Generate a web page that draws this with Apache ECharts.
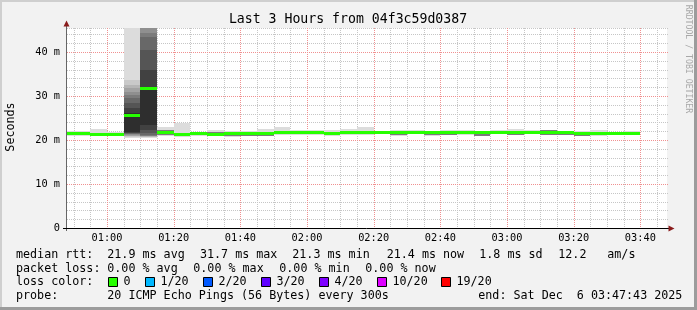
<!DOCTYPE html>
<html><head><meta charset="utf-8">
<script src="https://cdn.jsdelivr.net/npm/echarts@6/dist/echarts.min.js"></script>
<style>html,body{margin:0;padding:0;background:#f2f2f2}#c{width:697px;height:310px}</style>
</head><body><div id="c"></div><script>
// ---------------- data ----------------
const chartTitle = 'Last 3 Hours from 04f3c59d0387';
const startTime = '00:48';
const endTime = '03:48';
const stepMinutes = 5;
const stepStarts = ['00:45','00:50','00:55','01:00','01:05','01:10','01:15','01:20','01:25','01:30','01:35','01:40',
  '01:45','01:50','01:55','02:00','02:05','02:10','02:15','02:20','02:25','02:30','02:35','02:40','02:45','02:50',
  '02:55','03:00','03:05','03:10','03:15','03:20','03:25','03:30','03:35'];
const medianRtt = [21.5,21.5,21.3,21.3,25.5,31.7,21.7,21.3,21.4,21.3,21.4,21.4,21.4,21.6,21.6,21.6,21.5,21.7,21.6,
  21.7,21.6,21.7,21.6,21.6,21.6,21.6,21.7,21.7,21.7,21.6,21.6,21.4,21.4,21.5,21.4];
const lossPerStep = [0,0,0,0,0,0,0,0,0,0,0,0,0,0,0,0,0,0,0,0,0,0,0,0,0,0,0,0,0,0,0,0,0,0,0];
// sorted ping samples per step (ms)
const smokePings = [
  [21.0,21.3,21.8,22.0],[21.0,21.3,21.8,22.0],[21.0,21.1,21.6,22.5],[21.0,21.1,21.6,21.8],
  [20.5,20.7,20.9,21.0,21.2,21.3,21.4,21.5,21.6,21.8,26.1,27.3,28.5,29.5,30.2,30.8,31.8,32.5,33.6,55.0],
  [20.5,20.6,20.7,20.8,20.9,21.0,21.2,21.6,22.3,23.4,31.8,36.0,40.5,43.4,44.3,46.0,48.0,50.0,55.0,60.0],
  [20.9,21.1,22.2,22.9],[20.6,21.0,21.7,23.9],[21.0,21.2,21.6,21.9],[21.0,21.1,21.9,22.3],
  [20.6,21.0,21.5,22.0],[20.8,20.9,21.6,22.0],[20.8,20.9,21.6,22.5],[21.1,21.3,21.7,23.0],
  [21.1,21.3,21.7,22.2],[21.1,21.3,21.7,22.3],[20.9,21.1,21.7,22.3],[21.2,21.4,21.9,22.5],
  [21.2,21.4,21.8,23.0],[21.3,21.5,21.9,22.1],[20.8,21.1,21.8,22.3],[21.3,21.5,21.9,22.3],
  [21.0,21.2,21.8,22.1],[21.1,21.2,21.8,22.3],[21.2,21.4,21.8,22.3],[20.8,21.0,21.8,22.1],
  [21.3,21.5,21.9,22.3],[21.1,21.2,21.9,22.5],[21.3,21.5,22.0,22.2],[21.1,21.2,22.2,22.3],
  [21.1,21.2,21.8,22.0],[20.8,21.0,21.5,22.0],[21.0,21.1,21.9,22.2],[21.1,21.2,21.7,21.9],
  [21.2,21.3,21.8,22.0]
];
const yMax = 45.4545;
const yTickValues = [0,10,20,30,40];
const yTickLabels = ['0','10 m','20 m','30 m','40 m'];
const xTickLabels = ['01:00','01:20','01:40','02:00','02:20','02:40','03:00','03:20','03:40'];
const rttStats = [21.9, 31.7, 21.3, 21.4];
const rttStatNames = ['avg','max','min','now'];
const rttSd = 1.8;
const rttAmS = 12.2;
const lossStats = [0, 0, 0, 0];
const lossLegendLabels = ['0','1/20','2/20','3/20','4/20','10/20','19/20'];
const probeText = '20 ICMP Echo Pings (56 Bytes) every 300s';
const endText = 'end: Sat Dec  6 03:47:43 2025';

// ---------------- styles ----------------
const lossColors = ['#26ff00','#00b8ff','#0059ff','#5e00ff','#7e00ff','#dd00ff','#ff0000'];
const MONO = '"DejaVu Sans Mono", monospace';

const toMin = s => { const [h, m] = s.split(':').map(Number); return h * 60 + m; };
const xMin = toMin(startTime), xMax = toMin(endTime);

const smokeItems = [];
stepStarts.forEach((s, i) => {
  const t0 = toMin(s), t1 = t0 + stepMinutes;
  const v = smokePings[i].slice().sort((a, b) => a - b);
  const half = v.length / 2;
  for (let k = 0; k < half; k++) smokeItems.push([t0, t1, v[k], v[v.length - 1 - k], Math.min(9, Math.round(k * 10 / half))]);
});
const medianItems = stepStarts.map((s, i) => [toMin(s), toMin(s) + stepMinutes, medianRtt[i], lossPerStep[i]]);

const gridItems = [];
for (let t = Math.ceil(xMin / 5) * 5; t < xMax; t += 5) if (t % 20 !== 0) gridItems.push([0, t, 0]);
for (let v = 2; v < yMax; v += 2) if (v % 10 !== 0) gridItems.push([1, v, 0]);
gridItems.push([1, yMax, 0]);
for (let t = Math.ceil(xMin / 20) * 20; t < xMax; t += 20) gridItems.push([0, t, 1]);
for (let v = 10; v < yMax; v += 10) gridItems.push([1, v, 1]);

const chart = echarts.init(document.getElementById('c'), null, {renderer: 'canvas'});

const textEl = (text, x, y, extra) => Object.assign({type: 'text', x, y, z: 20,
  style: Object.assign({text, font: '11.7px ' + MONO, fill: '#000', align: 'left', verticalAlign: 'middle'}, (extra || {}))});

const rowY = [254.8, 268.5, 282.2, 295.9];
const graphics = [
  {type: 'rect', shape: {x: 0, y: 0, width: 697, height: 2}, style: {fill: '#cfcfcf'}, z: 0},
  {type: 'rect', shape: {x: 0, y: 0, width: 2, height: 310}, style: {fill: '#cfcfcf'}, z: 0},
  {type: 'rect', shape: {x: 694, y: 0, width: 3, height: 310}, style: {fill: '#9c9c9c'}, z: 0},
  {type: 'rect', shape: {x: 0, y: 307, width: 697, height: 3}, style: {fill: '#9c9c9c'}, z: 0},
  // axes
  {type: 'line', shape: {x1: 66.5, y1: 24, x2: 66.5, y2: 231}, style: {stroke: '#666', lineWidth: 1}, z: 20},
  {type: 'polygon', shape: {points: [[66.5, 20.5], [63.5, 26.5], [69.5, 26.5]]}, style: {fill: '#8a1c1c'}, z: 21},
  {type: 'line', shape: {x1: 63, y1: 228.5, x2: 670, y2: 228.5}, style: {stroke: '#000', lineWidth: 1}, z: 20},
  {type: 'polygon', shape: {points: [[674.5, 228.5], [668.5, 225.5], [668.5, 231.5]]}, style: {fill: '#8a1c1c'}, z: 21},
  // title & labels
  textEl(chartTitle, 348, 19.5, {font: '13.2px ' + MONO, align: 'center'}),
  Object.assign(textEl('Seconds', 0, 0, {align: 'center'}), {x: 11, y: 127, rotation: Math.PI / 2}),
  Object.assign(textEl('RRDTOOL / TOBI OETIKER', 0, 0, {align: 'center', font: '8.2px ' + MONO, fill: '#a8a8a8'}), {x: 688, y: 59, rotation: -Math.PI / 2})
];
// row 1: median rtt
const r1x = [16, 107.3, 200, 292.3, 386.7, 479.3, 558.3, 607.3];
const r1t = ['median rtt:'].concat(rttStats.map((v, i) => v.toFixed(1) + ' ms ' + rttStatNames[i]), [rttSd.toFixed(1) + ' ms sd', rttAmS.toFixed(1), 'am/s']);
r1t.forEach((t, i) => graphics.push(textEl(t, r1x[i], rowY[0])));
// row 2: packet loss
const r2x = [16, 107.3, 193.3, 279.3, 365.3];
const r2t = ['packet loss:'].concat(lossStats.map((v, i) => v.toFixed(2) + ' % ' + rttStatNames[i]));
r2t.forEach((t, i) => graphics.push(textEl(t, r2x[i], rowY[1])));
// row 3: loss color
graphics.push(textEl('loss color:', 16, rowY[2]));
const boxX = [108, 145, 203, 261, 319, 377, 441];
lossLegendLabels.forEach((l, i) => {
  graphics.push({type: 'rect', z: 20, shape: {x: boxX[i] + 0.5, y: 277.5, width: 9, height: 9}, style: {fill: lossColors[i], stroke: '#000', lineWidth: 1}});
  graphics.push(textEl(l, boxX[i] + 15.5, rowY[2]));
});
// row 4: probe
graphics.push(textEl('probe:', 16, rowY[3]));
graphics.push(textEl(probeText, 107.3, rowY[3]));
graphics.push(textEl(endText, 478.3, rowY[3]));

chart.setOption({
  animation: false,
  backgroundColor: '#f2f2f2',
  grid: {left: 67, top: 28, width: 600, height: 200, show: true, backgroundColor: '#fff', borderWidth: 0},
  xAxis: {
    type: 'value', min: xMin, max: xMax,
    axisLine: {show: false}, axisTick: {show: false}, splitLine: {show: false},
    axisLabel: {
      customValues: xTickLabels.map(toMin),
      formatter: v => { const i = xTickLabels.map(toMin).indexOf(Math.round(v)); return i >= 0 ? xTickLabels[i] : ''; },
      fontFamily: 'DejaVu Sans Mono', fontSize: 10.3, color: '#000', margin: 5
    }
  },
  yAxis: {
    type: 'value', min: 0, max: yMax, interval: 10,
    axisLine: {show: false}, axisTick: {show: false}, splitLine: {show: false},
    axisLabel: {
      showMaxLabel: false,
      formatter: v => { const i = yTickValues.indexOf(Math.round(v)); return i >= 0 ? yTickLabels[i] : ''; },
      fontFamily: 'DejaVu Sans Mono', fontSize: 10.3, color: '#000', margin: 7
    }
  },
  graphic: graphics,
  series: [
    {
      type: 'custom', name: 'grid', z: 1, silent: true, data: gridItems,
      renderItem: (params, api) => {
        const cs = params.coordSys;
        const major = api.value(2) === 1;
        const style = {stroke: major ? '#f09090' : '#c6c6c6', lineWidth: 1, lineDash: [1, 1]};
        if (api.value(0) === 0) {
          const x = Math.round(api.coord([api.value(1), 0])[0]) + 0.5;
          return {type: 'line', shape: {x1: x, y1: cs.y, x2: x, y2: cs.y + cs.height}, style};
        }
        const y = Math.round(api.coord([xMin, api.value(1)])[1]) + 0.5;
        return {type: 'line', shape: {x1: cs.x, y1: y, x2: cs.x + cs.width + 2, y2: y}, style};
      }
    },
    {
      type: 'custom', name: 'smoke', z: 2, clip: true, data: smokeItems,
      encode: {x: [0, 1], y: [2, 3]},
      renderItem: (params, api) => {
        const p0 = api.coord([api.value(0), api.value(3)]);
        const p1 = api.coord([api.value(1), api.value(2)]);
        const x0 = Math.round(p0[0]), x1 = Math.round(p1[0]);
        const y0 = Math.round(p0[1]), y1 = Math.round(p1[1]);
        const g = Math.round(220 - api.value(4) * (220 - 46) / 9);
        return {type: 'rect', shape: {x: x0, y: y0, width: x1 - x0, height: Math.max(1, y1 - y0)},
          style: {fill: 'rgb(' + g + ',' + g + ',' + g + ')'}};
      }
    },
    {
      type: 'custom', name: 'median', z: 3, clip: true, data: medianItems,
      encode: {x: [0, 1], y: 2},
      renderItem: (params, api) => {
        const p0 = api.coord([api.value(0), api.value(2)]);
        const p1 = api.coord([api.value(1), api.value(2)]);
        const x0 = Math.round(p0[0]), x1 = Math.round(p1[0]);
        const yt = Math.round(p0[1] - 1.5);
        return {type: 'rect', shape: {x: x0, y: yt, width: x1 - x0, height: 3},
          style: {fill: lossColors[api.value(3)]}};
      }
    }
  ]
});
</script></body></html>
